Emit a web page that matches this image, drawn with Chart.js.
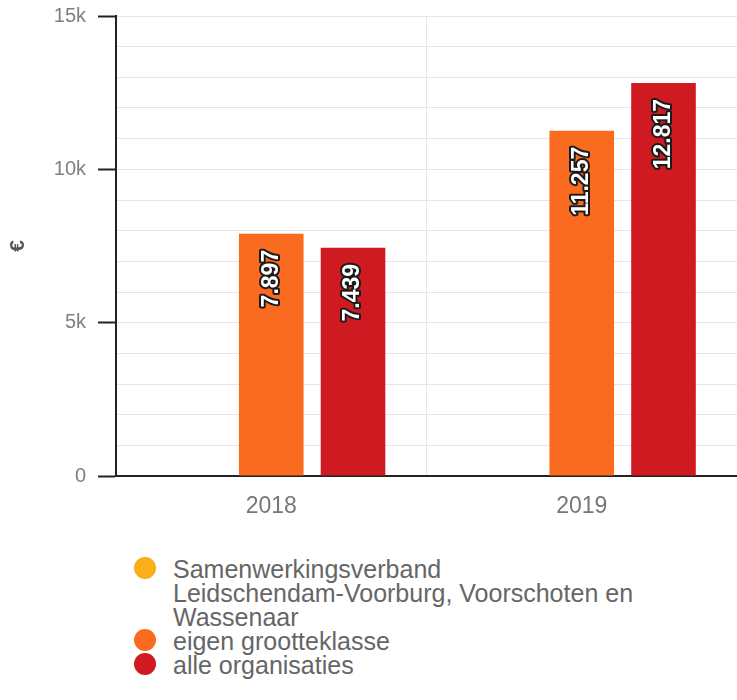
<!DOCTYPE html>
<html>
<head>
<meta charset="utf-8">
<script src="https://cdn.jsdelivr.net/npm/chart.js@4"></script>
<style>
  body { margin: 0; background: #fff; }
  #wrap { position: absolute; left: 0; top: 0; width: 737px; height: 540px; }
  #legend { position: absolute; left: 134px; top: 557px; font-family: "Liberation Sans", Arial, sans-serif; font-size: 25px; line-height: 24px; color: #666; }
  .item { display: flex; align-items: flex-start; }
  .dot { width: 22px; height: 22px; border-radius: 50%; margin-top: 0px; margin-right: 17px; flex: none; }
</style>
</head>
<body>
<div id="wrap"><canvas id="myChart" width="737" height="540"></canvas></div>
<div id="legend"></div>
<script>
let canva = document.querySelector('#myChart')

const years = ['2018', '2019']
const seriesNames = [
  ['Samenwerkingsverband', 'Leidschendam-Voorburg, Voorschoten en', 'Wassenaar'],
  'eigen grootteklasse',
  'alle organisaties'
]
const ownValues = [null, null]
const sizeClassValues = [7897, 11257]
const allValues = [7439, 12817]
const seriesColors = ['#fbae18', '#fa6a1f', '#cf1a21']

const fmt = v => String(v).replace(/\B(?=(\d{3})+(?!\d))/g, '.')

// white labels with a dark outline, rotated, near the top of each bar
const valueLabels = {
  id: 'valueLabels',
  afterDatasetsDraw(chart) {
    const ctx = chart.ctx
    chart.data.datasets.forEach((ds, i) => {
      chart.getDatasetMeta(i).data.forEach((bar, j) => {
        const v = ds.data[j]
        if (v == null) return
        ctx.save()
        ctx.translate(bar.x, bar.y + 16)
        ctx.rotate(-Math.PI / 2)
        ctx.font = 'bold 23px "Liberation Sans", Arial, sans-serif'
        ctx.textAlign = 'right'
        ctx.textBaseline = 'middle'
        ctx.lineJoin = 'round'
        ctx.lineWidth = 4
        ctx.strokeStyle = '#1b1b1b'
        ctx.strokeText(fmt(v), 0, 0)
        ctx.fillStyle = '#fff'
        ctx.fillText(fmt(v), 0, 0)
        ctx.restore()
      })
    })
  }
}

const data = {
  labels: years,
  datasets: [
    { label: seriesNames[0], data: ownValues, backgroundColor: seriesColors[0] },
    { label: seriesNames[1], data: sizeClassValues, backgroundColor: seriesColors[1] },
    { label: seriesNames[2], data: allValues, backgroundColor: seriesColors[2] }
  ]
}

const config = {
  type: 'bar',
  data: data,
  options: {
    responsive: false,
    animation: false,
    categoryPercentage: 0.79,
    barPercentage: 0.79,
    layout: { padding: { top: 16, left: 0, right: 0, bottom: 0 } },
    plugins: { legend: { display: false }, tooltip: { enabled: false } },
    scales: {
      x: {
        grid: { color: '#e6e6e6', drawTicks: false, offset: true },
        border: { color: '#222', width: 2 },
        ticks: { color: '#777', padding: 17, font: { family: '"Liberation Sans", Arial, sans-serif', size: 23 } },
        afterFit(scale) { scale.height = 64 }
      },
      y: {
        min: 0,
        max: 15000,
        grid: {
          color: '#e6e6e6',
          tickLength: 18,
          tickWidth: 2,
          tickColor: c => c.tick.value % 5000 === 0 ? '#222' : 'rgba(0,0,0,0)'
        },
        border: { color: '#222', width: 2 },
        ticks: {
          stepSize: 1000,
          autoSkip: false,
          padding: 12,
          color: '#808080',
          font: { family: '"Liberation Sans", Arial, sans-serif', size: 20 },
          callback: v => v % 5000 !== 0 ? '' : (v === 0 ? '0' : v / 1000 + 'k')
        },
        title: {
          display: true,
          text: '€',
          color: '#555',
          padding: { top: 6, bottom: 0 },
          font: { family: '"Liberation Sans", Arial, sans-serif', size: 21, weight: 'bold' }
        },
        afterFit(scale) {
          scale.width = 116
          scale.paddingTop = 0
          scale.paddingBottom = 0
        }
      }
    }
  },
  plugins: [valueLabels]
}

const chart = new Chart(canva, config)

// legend below the chart, one entry per line
const legend = document.querySelector('#legend')
chart.data.datasets.forEach(ds => {
  const row = document.createElement('div')
  row.className = 'item'
  const dot = document.createElement('span')
  dot.className = 'dot'
  dot.style.background = ds.backgroundColor
  const txt = document.createElement('span')
  txt.innerHTML = [].concat(ds.label).join('<br>')
  row.appendChild(dot)
  row.appendChild(txt)
  legend.appendChild(row)
})
</script>
</body>
</html>
